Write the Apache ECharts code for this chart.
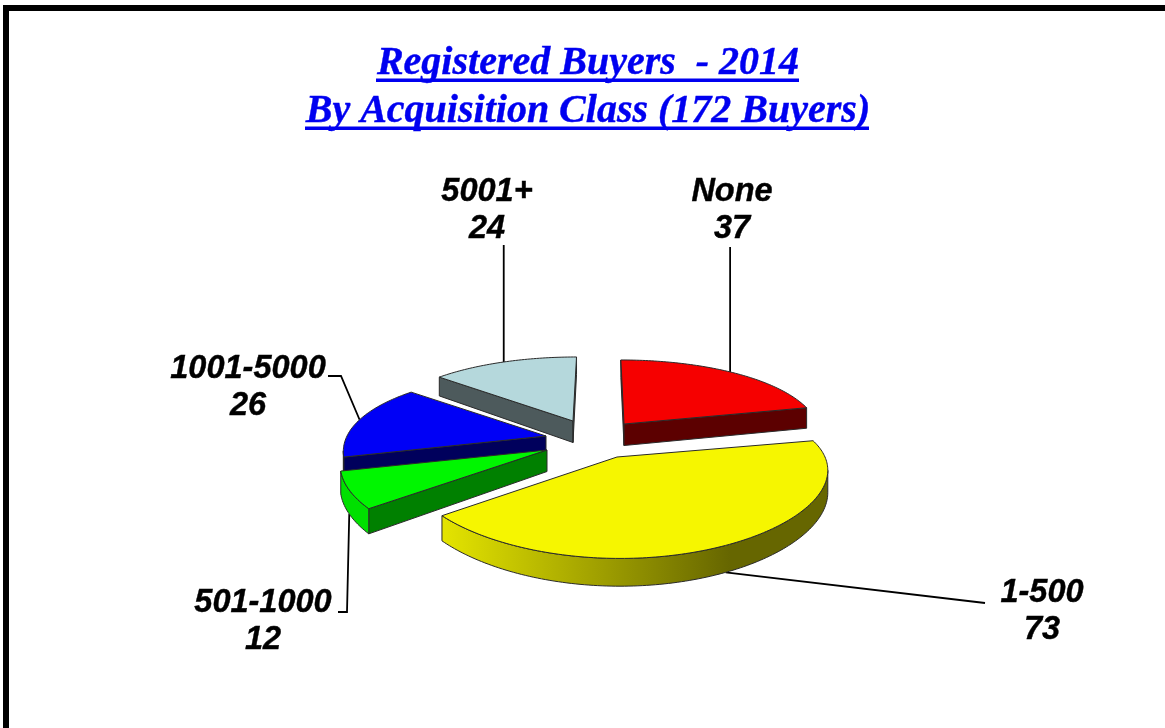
<!DOCTYPE html>
<html>
<head>
<meta charset="utf-8">
<title>Registered Buyers - 2014</title>
<script src="https://cdn.jsdelivr.net/npm/echarts@6/dist/echarts.min.js"></script>
<style>
  html, body { margin: 0; padding: 0; background: #fff; }
  #main { width: 1165px; height: 728px; }
</style>
</head>
<body>
<div id="main"></div>
<script>
// chart data
var categories = ["None", "1-500", "501-1000", "1001-5000", "5001+"];
var buyers = [37, 73, 12, 26, 24];
var titleLines = ["Registered Buyers  - 2014", "By Acquisition Class (172 Buyers)"];

// colours per slice
var topColors = ["#f60000", "#f6f600", "#00f600", "#0000f6", "#b5d8dc"];
var cutColors = ["#5c0000", "#5c5c00", "#008000", "#00005c", "#4d5a5c"];
var arcColors = ["#8c0000", "#8c8c00", "#00e000", "#00008c", "#7c9296"];

// how the squashed pie sits on the page
var pieX = 600, pieY = 435;
var radiusX = [194, 208, 203, 199, 194];
var radiusY = 78.5;
var perspectiveX = 0.15, perspectiveY = 0.226;
var thickness = 21.5;
var sliceShift = [[24, -11], [17, 22], [-53, 15], [-54, 1], [-27, -14]];
var drawOrder = [4, 0, 3, 2, 1];

// leader lines and labels
var labelPos = [[732, 211], [1042, 612], [263, 622], [248, 388], [487, 211]];
var leaderElbows = [
  [[730, 247]],
  [[985, 603]],
  [[338, 612], [347, 612]],
  [[328, 376], [341, 376]],
  [[503, 245]]
];
var verticalLeader = [true, false, false, false, true];

var total = buyers.reduce(function (a, b) { return a + b; }, 0);
var startFrac = [];
buyers.reduce(function (acc, v, i) { startFrac[i] = acc / total; return acc + v; }, 0);

// clockwise from the back of the pie
function project(i, angle, down) {
  return projectXY(i, Math.sin(angle), -Math.cos(angle), down);
}
function projectXY(i, X, Y, down) {
  var sx = 1 / (1 - perspectiveX * Y);
  var sy = 1 / (1 - perspectiveY * Y);
  var sh = sliceShift[i];
  return [
    pieX + sh[0] * sx + radiusX[i] * X * sx,
    pieY + sh[1] + radiusY * Y * sy + (down ? thickness * sy : 0)
  ];
}
function angleOf(frac) { return frac * Math.PI * 2; }

function slicePaths(i) {
  var a0 = angleOf(startFrac[i]);
  var a1 = a0 + angleOf(buyers[i] / total);
  var n = Math.ceil(buyers[i] * 2);
  var arc = [], arcLow = [];
  for (var k = 0; k <= n; k++) {
    var a = a0 + (a1 - a0) * k / n;
    arc.push(project(i, a, false));
    arcLow.push(project(i, a, true));
  }
  return { apex: projectXY(i, 0, 0, false), apexLow: projectXY(i, 0, 0, true), arc: arc, arcLow: arcLow };
}

function poly(points, fill, z2) {
  return {
    type: "polygon",
    z2: z2,
    shape: { points: points },
    style: { fill: fill, stroke: "#2a2a2a", lineWidth: 1, lineJoin: "round" }
  };
}

function renderSlice(params, api) {
  var i = api.value(0);
  var p = slicePaths(i);
  var children = [];
  var first = p.arc[0], last = p.arc[p.arc.length - 1];
  var firstLow = p.arcLow[0], lastLow = p.arcLow[p.arcLow.length - 1];

  // cut faces, only those turned to the viewer
  if (first[0] < p.apex[0]) {
    children.push(poly([p.apex, first, firstLow, p.apexLow], cutColors[i], 1));
  }
  if (p.apex[0] < last[0]) {
    children.push(poly([last, p.apex, p.apexLow, lastLow], cutColors[i], 1));
  }
  // outer wall, the part where the rim runs right to left
  var top = [], low = [];
  for (var k = 1; k < p.arc.length; k++) {
    if (p.arc[k][0] < p.arc[k - 1][0]) {
      if (!top.length) { top.push(p.arc[k - 1]); low.push(p.arcLow[k - 1]); }
      top.push(p.arc[k]);
      low.push(p.arcLow[k]);
    }
  }
  if (top.length) {
    var fill = arcColors[i];
    if (i === 1) {
      fill = new echarts.graphic.LinearGradient(443, 0, 730, 0, [
        { offset: 0, color: "#e4e400" },
        { offset: 1, color: "#666600" }
      ], true);
    }
    children.push(poly(top.concat(low.reverse()), fill, 2));
  }
  children.push(poly([p.apex].concat(p.arc), topColors[i], 3));
  return { type: "group", children: children };
}

function renderLeader(params, api) {
  var i = api.value(0);
  var mid = angleOf(startFrac[i] + buyers[i] / total / 2);
  var isFront = Math.cos(mid) < 0;
  var end = project(i, mid, isFront);
  var elbows = leaderElbows[i].map(function (p) {
    return verticalLeader[i] ? [end[0], p[1]] : p;
  });
  return {
    type: "group",
    children: [
      {
        type: "polyline",
        shape: { points: elbows.concat([end]) },
        style: { fill: null, stroke: "#000", lineWidth: 1.8 }
      },
      {
        type: "text",
        x: labelPos[i][0],
        y: labelPos[i][1],
        style: {
          text: categories[i] + "\n" + buyers[i],
          fill: "#000",
          stroke: "#000",
          lineWidth: 0.4,
          font: "italic bold 32.5px 'Liberation Sans', Arial, sans-serif",
          lineHeight: 37,
          align: "center",
          verticalAlign: "middle"
        }
      }
    ]
  };
}

var titleStyle = {
  color: "#0000f0",
  fontFamily: "Liberation Serif",
  fontStyle: "italic",
  fontWeight: "bold",
  fontSize: 40,
  textBorderColor: "#0000f0",
  textBorderWidth: 0.4
};

var option = {
  animation: false,
  backgroundColor: "#fff",
  title: [
    { text: titleLines[0], left: 583, top: 39, textAlign: "center", textStyle: titleStyle },
    { text: titleLines[1], left: 583, top: 87, textAlign: "center", textStyle: titleStyle }
  ],
  graphic: [
    // frame, cut off at the right and bottom of the page
    { type: "rect", shape: { x: 3, y: 5, width: 1162, height: 6 }, style: { fill: "#000" } },
    { type: "rect", shape: { x: 3, y: 5, width: 6, height: 723 }, style: { fill: "#000" } },
    // title underlines
    { type: "rect", shape: { x: 376, y: 78.5, width: 423, height: 3.5 }, style: { fill: "#0000f0" } },
    { type: "rect", shape: { x: 305, y: 126.5, width: 564, height: 3.5 }, style: { fill: "#0000f0" } }
  ],
  series: [
    {
      type: "custom",
      coordinateSystem: "none",
      silent: true,
      z: 1,
      renderItem: renderLeader,
      data: buyers.map(function (v, i) { return [i, v]; })
    },
    {
      type: "custom",
      coordinateSystem: "none",
      silent: true,
      z: 2,
      renderItem: renderSlice,
      data: drawOrder.map(function (i) { return [i, buyers[i]]; })
    }
  ]
};

var myChart = echarts.init(document.getElementById("main"));
myChart.setOption(option);
</script>
</body>
</html>
